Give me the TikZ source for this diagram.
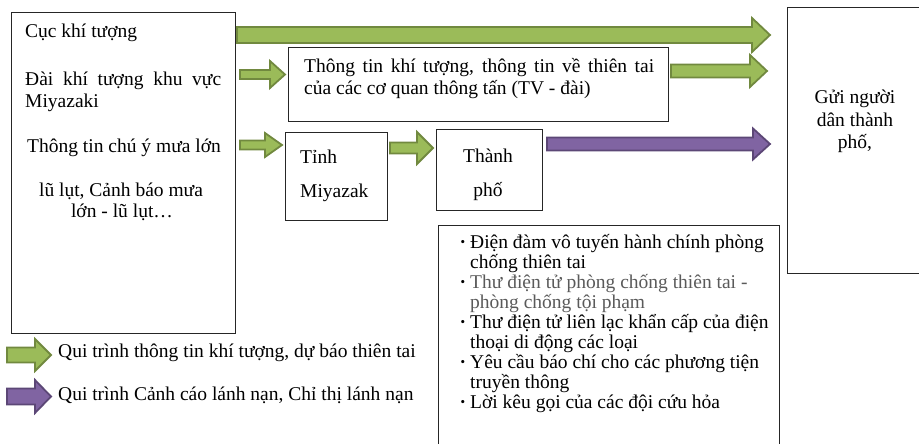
\documentclass[tikz,border=0pt]{standalone}
\usepackage{fontspec}
\setmainfont{Liberation Serif}
\definecolor{gfill}{HTML}{9BBB59}
\definecolor{gline}{HTML}{71893F}
\definecolor{pfill}{HTML}{8064A2}
\definecolor{pline}{HTML}{5C4776}
\definecolor{graytxt}{HTML}{5A5A5A}
\newcommand\barrow[7]{\draw[#1] (#2,#4-#5) -- (#7,#4-#5) -- (#7,#4-#6) -- (#3,#4) -- (#7,#4+#6) -- (#7,#4+#5) -- (#2,#4+#5) -- cycle;}
\begin{document}
\begin{tikzpicture}[x=1pt,y=-1pt,
  box/.style={draw=black!85,line width=0.9pt,inner sep=0,anchor=north west},
  txt/.style={inner sep=0,anchor=base west,font=\fontsize{19.5}{20}\selectfont},
  ctxt/.style={inner sep=0,anchor=base,font=\fontsize{19.5}{20}\selectfont},
  garrow/.style={fill=gfill,draw=gline,line width=1.8pt,line join=miter},
  parrow/.style={fill=pfill,draw=pline,line width=1.8pt,line join=miter}]
\useasboundingbox (0,0) rectangle (919,444);
\clip (0,0) rectangle (919,444);
% boxes
\node[box,minimum width=224pt,minimum height=321pt] (src) at (11,12) {};
\node[box,minimum width=380pt,minimum height=74pt] (media) at (288,47) {};
\node[box,minimum width=102pt,minimum height=88pt] (pref) at (285,132) {};
\node[box,minimum width=106pt,minimum height=81pt] (city) at (436,129) {};
\node[box,minimum width=140pt,minimum height=265pt] (people) at (787,7.5) {};
\node[box,minimum width=341pt,minimum height=240pt] (list) at (438,225) {};
% left box text
\node[txt] (t1) at (25,38) {Cục khí tượng};
\node[txt] (t2) at (25,85) {\makebox[196pt][s]{Đài khí tượng khu vực}};
\node[txt] (t3) at (25,107) {Miyazaki};
\node[txt] (t4) at (27,152) {Thông tin chú ý mưa lớn};
\node[ctxt] (t5) at (121,196) {lũ lụt, Cảnh báo mưa};
\node[ctxt] (t6) at (122,217) {lớn - lũ lụt…};
% media box
\node[txt] (m1) at (304,73) {\makebox[350pt][s]{Thông tin khí tượng, thông tin về thiên tai}};
\node[txt] (m2) at (304,95) {của các cơ quan thông tấn (TV - đài)};
% prefecture / city
\node[txt] (p1) at (300,163) {Tỉnh};
\node[txt] (p2) at (300,197) {Miyazak};
\node[ctxt] (c1) at (488,162) {Thành};
\node[ctxt] (c2) at (488,196) {phố};
% people
\node[ctxt] (g1) at (855,103) {Gửi người};
\node[ctxt] (g2) at (855,126) {dân thành};
\node[ctxt] (g3) at (855,148) {phố,};
% list
\foreach \y/\b/\t/\c in {248/1/Điện đàm vô tuyến hành chính phòng/black,
  268/0/chống thiên tai/black,
  288/1/Thư điện tử phòng chống thiên tai -/graytxt,
  308/0/phòng chống tội phạm/graytxt,
  328/1/Thư điện tử liên lạc khẩn cấp của điện/black,
  348/0/thoại di động các loại/black,
  368/1/Yêu cầu báo chí cho các phương tiện/black,
  388/0/truyền thông/black,
  408/1/Lời kêu gọi của các đội cứu hỏa/black}{
  \node[txt,text=\c] at (470,\y) {\t};
  \ifnum\b=1 \node[txt] at (459.5,\y) {\textbf{·}};\fi
}
% arrows
\barrow{garrow}{237}{770}{35}{8}{17}{752}
\barrow{garrow}{240}{285}{74.5}{4.5}{13.5}{270}
\barrow{garrow}{671}{767}{71}{6.5}{16}{750}
\barrow{garrow}{240}{282}{145}{4.5}{12}{265}
\barrow{garrow}{390}{433}{148}{5.5}{16}{417}
\barrow{parrow}{547}{770}{144}{6.5}{15.5}{753}
% legend
\barrow{garrow}{7}{51}{355}{7.5}{16}{35}
\node[txt] (l1) at (58,357) {Qui trình thông tin khí tượng, dự báo thiên tai};
\barrow{parrow}{7}{51}{396.5}{8}{16.5}{35}
\node[txt] (l2) at (58,400) {Qui trình Cảnh cáo lánh nạn, Chỉ thị lánh nạn};
\end{tikzpicture}
\end{document}
